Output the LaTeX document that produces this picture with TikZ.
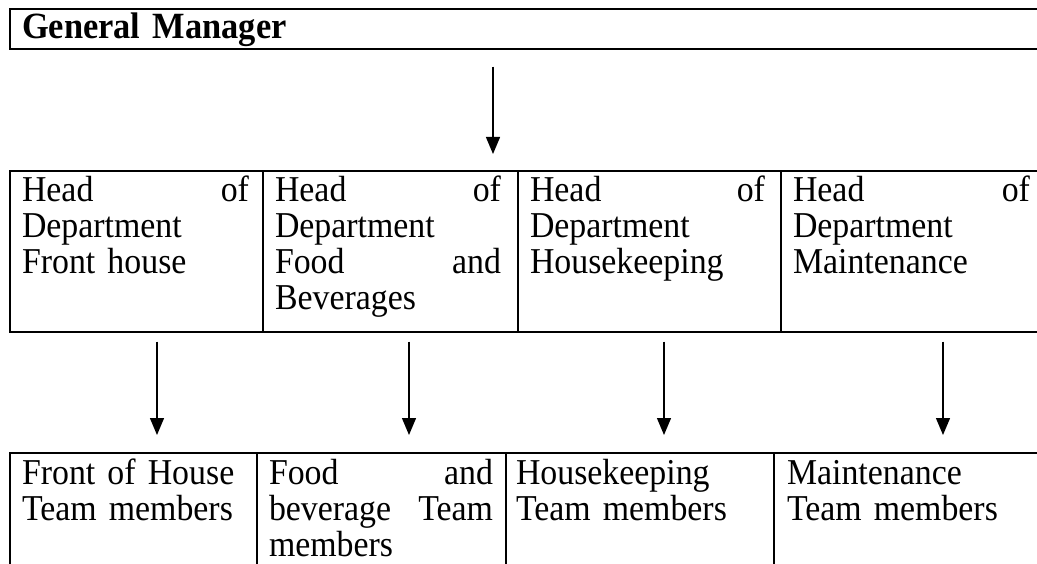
\documentclass[tikz,border=0pt]{standalone}
\usepackage{fontspec}
\setmainfont{Liberation Serif}[FakeStretch=0.93]
\usetikzlibrary{arrows.meta}
\newcommand{\fsz}{\fontsize{36.4pt}{36pt}\selectfont}
\newcommand{\stt}{\rule{0pt}{25pt}}
\begin{document}
\begin{tikzpicture}[x=1pt,y=-1pt,
  cell/.style={draw, line width=1.6pt, anchor=north west, inner sep=0pt},
  txt/.style={anchor=north west, inner sep=0pt, outer sep=0pt, text width=#1, align=left, font=\fsz},
  arr/.style={line width=1.3pt, -{Triangle[length=17pt,width=14pt]}}]
\path[use as bounding box, clip] (0,0) rectangle (1037,564);
\fill[white] (0,0) rectangle (1037,564);
% General manager
\node[cell, minimum width=1100pt, minimum height=40pt] (gm) at (9,8) {};
\node[txt=400pt, font=\fontsize{37pt}{36pt}\selectfont\bfseries] (gmt) at (22,13) {\stt General Manager};
% heads of department
\node[cell, minimum width=253pt, minimum height=161pt] (h1) at (9,170) {};
\node[cell, minimum width=255pt, minimum height=161pt] (h2) at (262,170) {};
\node[cell, minimum width=263pt, minimum height=161pt] (h3) at (517,170) {};
\node[cell, minimum width=300pt, minimum height=161pt] (h4) at (780,170) {};
\node[txt=227pt] (h1t) at (22,176) {\stt Head\hfill of\\Department\\Front house};
\node[txt=226pt] (h2t) at (275,176) {\stt Head\hfill of\\Department\\Food\hfill and\\Beverages};
\node[txt=235pt] (h3t) at (530,176) {\stt Head\hfill of\\Department\\Housekeeping};
\node[txt=237pt] (h4t) at (793,176) {\stt Head\hfill of\\Department\\Maintenance};
% team members
\node[cell, minimum width=247pt, minimum height=150pt] (m1) at (9,452) {};
\node[cell, minimum width=249pt, minimum height=150pt] (m2) at (256,452) {};
\node[cell, minimum width=268pt, minimum height=150pt] (m3) at (505,452) {};
\node[cell, minimum width=300pt, minimum height=150pt] (m4) at (773,452) {};
\node[txt=222pt] (m1t) at (22,459) {\stt Front of House\\Team members};
\node[txt=224pt] (m2t) at (269,459) {\stt Food\hfill and\\beverage\hfill Team\\members};
\node[txt=240pt] (m3t) at (516,459) {\stt Housekeeping\\Team members};
\node[txt=240pt] (m4t) at (787,459) {\stt Maintenance\\Team members};
% arrows
\coordinate (a0) at (493,0);
\coordinate (a1) at (157,0);
\coordinate (a2) at (409,0);
\coordinate (a3) at (664,0);
\coordinate (a4) at (943,0);
\draw[arr, shorten <=17pt, shorten >=16pt] (a0 |- gm.south) -- (a0 |- h3.north);
\draw[arr, shorten <=9pt, shorten >=17pt] (a1 |- h1.south) -- (a1 |- m1.north);
\draw[arr, shorten <=9pt, shorten >=17pt] (a2 |- h2.south) -- (a2 |- m2.north);
\draw[arr, shorten <=9pt, shorten >=17pt] (a3 |- h3.south) -- (a3 |- m3.north);
\draw[arr, shorten <=9pt, shorten >=17pt] (a4 |- h4.south) -- (a4 |- m4.north);
\end{tikzpicture}
\end{document}
